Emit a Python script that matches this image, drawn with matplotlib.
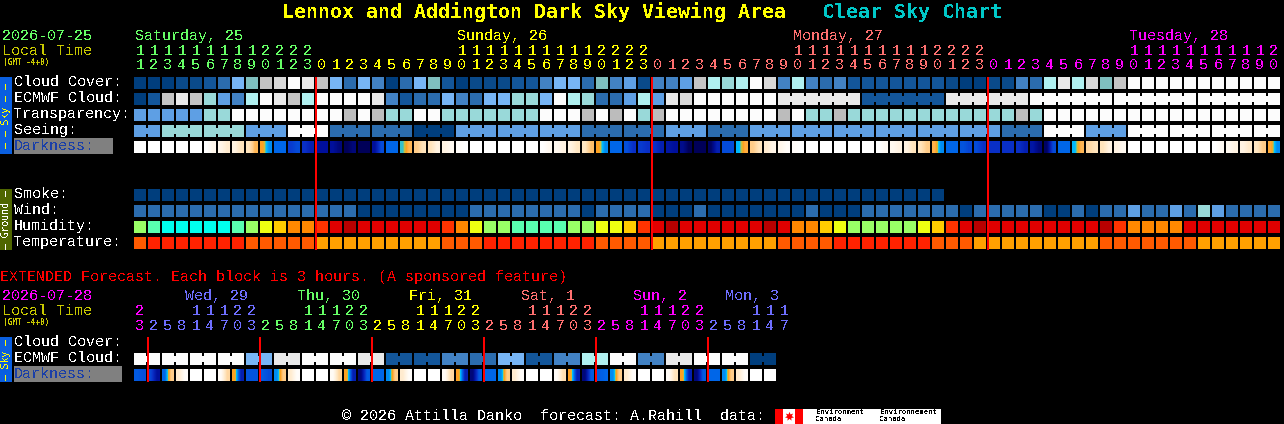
"""Clear Sky Chart style forecast grid, drawn on a pixel-sized axes."""

import matplotlib
matplotlib.use("Agg")
import matplotlib.pyplot as plt
from matplotlib.colors import LinearSegmentedColormap

plt.rcParams["font.family"] = ["Liberation Mono", "DejaVu Sans Mono"]
plt.rcParams["text.antialiased"] = False

# ---------------------------------------------------------------------- #
# Data, one letter per block
# ---------------------------------------------------------------------- #
hours = [11, 12, 13, 14, 15, 16, 17, 18, 19, 20, 21, 22, 23,
         0, 1, 2, 3, 4, 5, 6, 7, 8, 9, 10, 11, 12, 13, 14, 15, 16, 17, 18, 19, 20, 21, 22, 23,
         0, 1, 2, 3, 4, 5, 6, 7, 8, 9, 10, 11, 12, 13, 14, 15, 16, 17, 18, 19, 20, 21, 22, 23,
         0, 1, 2, 3, 4, 5, 6, 7, 8, 9, 10, 11, 12, 13, 14, 15, 16, 17, 18, 19, 20]
day_names = ["Saturday, 25", "Sunday, 26", "Monday, 27", "Tuesday, 28"]
day_name_index = [0, 23, 47, 71]

cloud = ("aaannbcfgjkwl" "jfcfdacf" "gbannnbbdffcgden" "ddejihiwkdidcdb"
         "bbbbbbnaanndc" "ilikgj" "wwwwwwwwwww")
ecmwf = ("abjljhediwljiwwwwldbc" "cfdcffhhfwihcceielkwwwwww"
         "llllllbbbbbbllllllwwwwwwwwwwwwwwwwww")
transparency = ("eeeeehhwwwwwwwwtwthhw" "whhhhhhhwwwtwtwhtwwwwwwwwtwhhth"
                "hhhhhhhhhhhthwwwwwwwwwwwwwwwww")
seeing = ("eehhhhhheeewwwcccccc" "aaaeeeeeeeeecccccceeeccceeeeeeeeeeeeeeeeeeccc"
          "wwweeewwwwwwwwwww")
smoke = "aaaaaaaaaaaaaaaaaaaaaaaaaaaaaaaaaaaaaaaaaaaaaaaaaaaaaaaaaa"
wind = ("cccccccccccccccc" "aaaaaaaa" "cccccccc" "a" "cccc" "aaa" "c" "aaaaaaa" "c" "aaa"
        "ccccccc" "a" "ccccc" "aa" "c" "a" "cc" "e" "cc" "e" "c" "h" "e" "cccc")
humidity = ("gmcccccmgyorrRedeeeee"
            "eRryggmmmmggyyoRedeeeeeederroyg"
            "ggggyoRedeeeeeeeedRrrrreeeeeee")
temperature = ("orrrrrrroooooaaaaaaaa"
               "aooorrrrrrrroooo" "aaaaaaaaa" "oooorr"
               "rrrrrooo" "aaaaaaaaa" "ooooooo" "aaaaaa")

# (left, right) darkness reading of each block, 0 = daylight, 9 = moonless night
dark_left = [0, 0, 0, 0, 0, 0, .8, 1, 2, 4, 6, 6.8, 7, 8, 8, 9, 9, 8, 6, 4.7, 3,
             2, 1, .2, 0, 0, 0, 0, 0, 0, .5, 1, 1.8, 4, 6, 6.4, 6.8, 7, 7.8, 8.2, 9,
             8.8, 6.5, 4.9, 3, 1.5, .7, .2, 0, 0, 0, 0, 0, 0, .5, 1, 2, 3.6, 6, 6.3, 6.5,
             7, 7, 7, 7.8, 8.8, 6, 4.9, 2.5, 2, 1, 0, 0, 0, 0, 0, 0, 0, .5, 1, 1.8, 3.8]
dark_right = [0, 0, 0, 0, 0, .7, 1.5, 2, 3.5, 5.5, 6, 6.5, 7.5, 8, 8.5, 8.5, 9, 6.5, 6, 3.5, 2,
              1, .5, 0, 0, 0, 0, 0, 0, .5, 1, 1.8, 3.3, 5.5, 6, 7, 7, 7.5, 8, 9, 9,
              7.5, 6.5, 3.7, 2, .8, .2, 0, 0, 0, 0, 0, 0, .4, 1, 2, 3, 5.5, 6, 6.6, 7,
              7, 7, 7.5, 8.5, 6.5, 6, 3.5, 2, 1, .5, 0, 0, 0, 0, 0, 0, .4, 1, 1.6, 3, 5.5]

ext_hours = [23, 2, 5, 8, 11, 14, 17, 20, 23, 2, 5, 8, 11, 14, 17, 20, 23,
             2, 5, 8, 11, 14, 17, 20, 23, 2, 5, 8, 11, 14, 17, 20, 23,
             2, 5, 8, 11, 14, 17, 20, 23, 2, 5, 8, 11, 14, 17]
ext_day_names = ["Wed, 29", "Thu, 30", "Fri, 31", "Sat, 1", "Sun, 2", "Mon, 3"]
ext_day_x = [185, 297, 409, 521, 633, 725]
ext_day_colors = ["#6e6eff", "#66ff66", "#ffff00", "#ff7070", "#ff00ff", "#6e6eff"]
ext_ecmwf = "wwwwflwwlbbdcfbdiwdlwwa"
ext_dark_left = [6.2, 6.6, 6, 1.5, 0, 0, .3, 4, 6.3, 6.2, 5.5, 1.5, 0, 0, .3, 4,
                 8.5, 6, 5.5, 1.5, 0, 0, .3, 4, 8.5, 6, 5.5, 1.5, 0, 0, .3, 4,
                 8.5, 6.2, 5.5, 1.5, 0, 0, .3, 4, 8.5, 6, 5.5, 1.5, 0, 0]
ext_dark_right = [6.4, 8, 3, .2, 0, 0, 2.5, 7.5, 6.3, 6.5, 3, .2, 0, 0, 2.5, 7.5,
                  6.2, 6, 3, .2, 0, 0, 2.5, 7.5, 6.2, 6, 3, .2, 0, 0, 2.2, 7.5,
                  6.2, 6, 3, .2, 0, 0, 2, 7.5, 6.2, 6, 3, .2, 0, 0]

# ---------------------------------------------------------------------- #
# Styles
# ---------------------------------------------------------------------- #
SKY = {"a": "#003e7d", "n": "#0a4a8a", "b": "#13569a", "c": "#2b6cae", "d": "#4282c4",
       "e": "#5e9fe4", "f": "#77b5f5", "g": "#7fbfbf", "h": "#99d9d9", "i": "#b0f0f0",
       "j": "#c4c4c4", "k": "#d8d8d8", "l": "#e9e9e9", "t": "#bcbcbc", "w": "#fcfcfc"}
HUMID = {"c": "#00ffee", "m": "#59ffb0", "g": "#99ff66", "y": "#eeff11", "o": "#ffcc00",
         "r": "#ff8800", "R": "#ff3300", "e": "#e00000", "d": "#b80000"}
TEMP = {"a": "#ffa000", "o": "#ff5a00", "r": "#ff2200"}
DAY_COLORS = ["#66ff66", "#ffff00", "#ff7070", "#ff00ff"]

dark_cmap = LinearSegmentedColormap.from_list("dark", [
    (0.0, "#ffffff"), (1 / 9, "#fff3e2"), (2 / 9, "#ffe4bc"), (3 / 9, "#ffcc88"),
    (4 / 9, "#ffa020"), (4.4 / 9, "#c8c040"), (4.8 / 9, "#00c0ff"), (6 / 9, "#0066e8"),
    (7 / 9, "#0a30c8"), (8 / 9, "#00109c"), (1.0, "#000058")])

X0, PITCH, BLOCK = 134, 14, 12


def block_x(n):
    return X0 + PITCH * n


def draw_row(ax, letters, y, palette, linked=None):
    """One row of blocks; linked(n) joins block n to block n + 1."""
    xs = [block_x(n) for n in range(len(letters))]
    colors = [palette[c] for c in letters]
    ax.bar(xs, BLOCK, bottom=y, width=BLOCK, align="edge", color=colors, antialiased=False)
    if linked is None:
        return
    for n in range(len(letters) - 1):
        if linked(n):
            ax.bar(xs[n] + BLOCK, 6, bottom=y + 3, width=PITCH - BLOCK, align="edge",
                   color=colors[n], antialiased=False)


def draw_darkness(ax, left, right, y):
    for n, (a, b) in enumerate(zip(left, right)):
        ax.imshow([[a, b]], extent=(block_x(n), block_x(n) + BLOCK, y + BLOCK, y),
                  cmap=dark_cmap, vmin=0, vmax=9, aspect="auto",
                  interpolation="bilinear", interpolation_stage="data")


def label(ax, x, y, s, color="white", size=10.8, **kw):
    ax.text(x, y + 1, s, color=color, fontsize=size, ha=kw.pop("ha", "left"),
            va="center", **kw)


def draw_hours(ax, values, y_tens, y_ones, colors):
    for n, (h, c) in enumerate(zip(values, colors)):
        if h >= 10:
            label(ax, block_x(n) + 6, y_tens, str(h // 10), c, ha="center")
        label(ax, block_x(n) + 6, y_ones, str(h % 10), c, ha="center")


def red_lines(ax, values, y0, y1):
    for n in range(1, len(values)):
        if values[n] < values[n - 1]:
            ax.vlines(block_x(n), y0, y1, colors="#ff0000", linewidth=1.44, zorder=5)


def side_tab(ax, y0, y1, bg, fg, s):
    ax.bar(0, y1 - y0, bottom=y0, width=12, align="edge", color=bg, antialiased=False)
    ax.text(6, (y0 + y1) / 2, s, color=fg, fontsize=7, rotation=90, ha="center", va="center",
            family="DejaVu Sans Mono")


def main():
    for row in (cloud, ecmwf, transparency, seeing, wind, humidity, temperature, hours, dark_left, dark_right):
        assert len(row) == 82, len(row)

    fig = plt.figure(figsize=(12.84, 4.24), dpi=100, facecolor="black")
    ax = fig.add_axes([0, 0, 1, 1])
    ax.set_facecolor("black")
    ax.axis("off")

    # Titles
    label(ax, 282, 11, "Lennox and Addington Dark Sky Viewing Area", "#ffff00", 14.35,
          fontweight="bold", family="DejaVu Sans Mono")
    label(ax, 822, 11, "Clear Sky Chart", "#00c8c8", 14.35, fontweight="bold", family="DejaVu Sans Mono")

    # Main header
    label(ax, 2, 35, "2026-07-25", "#66ff66")
    label(ax, 2, 50, "Local Time", "#c8c800")
    label(ax, 3, 61, "(GMT -4+0)", "#c8c800", 5.6, fontweight="bold", family="DejaVu Sans Mono")
    day = 0
    day_of_block = []
    for n, h in enumerate(hours):
        if n and h < hours[n - 1]:
            day += 1
        day_of_block.append(day)
    for name, n in zip(day_names, day_name_index):
        label(ax, block_x(n) + 1, 35, name, DAY_COLORS[day_of_block[n]])
    draw_hours(ax, hours, 50, 64, [DAY_COLORS[d] for d in day_of_block])

    # Sky rows
    draw_row(ax, cloud, 77, SKY)
    draw_row(ax, ecmwf, 93, SKY, lambda n: n >= 46 and (n - 46) // 6 == (n - 45) // 6)
    draw_row(ax, transparency, 109, SKY)
    draw_row(ax, seeing, 125, SKY, lambda n: (n + 1) // 3 == (n + 2) // 3)
    draw_darkness(ax, dark_left, dark_right, 141)

    # Ground rows
    draw_row(ax, smoke, 189, SKY)
    draw_row(ax, wind, 205, SKY)
    draw_row(ax, humidity, 221, HUMID)
    draw_row(ax, temperature, 237, TEMP)
    red_lines(ax, hours, 77, 250)

    for y, s in zip([81, 97, 113, 129], ["Cloud Cover:", "ECMWF Cloud:", "Transparency:", "Seeing:"]):
        label(ax, 14, y, s)
    ax.bar(14, 16, bottom=138, width=99, align="edge", color="#808080", antialiased=False)
    label(ax, 14, 145, "Darkness:", "#1a3fa8")
    for y, s in zip([193, 209, 225, 241], ["Smoke:", "Wind:", "Humidity:", "Temperature:"]):
        label(ax, 14, y, s)
    side_tab(ax, 77, 154, "#0a5fe0", "#ffff00", "\u2013 \u2013 Sky \u2013 \u2013")
    side_tab(ax, 189, 250, "#4f6600", "#ffffff", "\u2013 Ground \u2013")

    # Extended forecast
    label(ax, 0, 276, "EXTENDED Forecast. Each block is 3 hours. (A sponsored feature)", "#ff0000")
    label(ax, 2, 295, "2026-07-28", "#ff00ff")
    label(ax, 2, 310, "Local Time", "#c8c800")
    label(ax, 3, 321, "(GMT -4+0)", "#c8c800", 5.6, fontweight="bold", family="DejaVu Sans Mono")
    for name, x, c in zip(ext_day_names, ext_day_x, ext_day_colors):
        label(ax, x, 295, name, c)
    ext_colors = []
    day = -1
    for n, h in enumerate(ext_hours):
        if n and h < ext_hours[n - 1]:
            day += 1
        ext_colors.append("#ff00ff" if day < 0 else ext_day_colors[day])
    draw_hours(ax, ext_hours, 310, 325, ext_colors)

    label(ax, 14, 341, "Cloud Cover:")
    label(ax, 14, 357, "ECMWF Cloud:")
    ax.bar(14, 16, bottom=366, width=108, align="edge", color="#808080", antialiased=False)
    label(ax, 14, 373, "Darkness:", "#1a3fa8")
    doubled = "".join(c + c for c in ext_ecmwf)
    draw_row(ax, doubled, 353, SKY, lambda n: n % 2 == 0)
    draw_darkness(ax, ext_dark_left, ext_dark_right, 369)
    red_lines(ax, ext_hours, 337, 382)
    side_tab(ax, 337, 382, "#0a5fe0", "#ffff00", "\u2013 Sky \u2013")

    # Footer with the data credit panel
    label(ax, 342, 415, "\u00a9 2026 Attilla Danko  forecast: A.Rahill  data:")
    ax.bar(775, 15, bottom=409, width=166, align="edge", color="white", antialiased=False)
    ax.bar(775, 15, bottom=409, width=8, align="edge", color="#ff0000", antialiased=False)
    ax.bar(795, 15, bottom=409, width=8, align="edge", color="#ff0000", antialiased=False)
    ax.scatter([789], [416], marker=(7, 1), s=45, color="#ff0000", linewidths=0)
    for x, s in [(816, "Environment"), (880, "Environnement")]:
        label(ax, x, 411, s, "black", 5.2, family="DejaVu Sans Mono")
        label(ax, x, 418, "Canada", "black", 5.2, family="DejaVu Sans Mono")

    ax.set_xlim(0, 1284)
    ax.set_ylim(424, 0)
    fig.savefig("out.png", dpi=100, facecolor="black")


if __name__ == "__main__":
    main()
